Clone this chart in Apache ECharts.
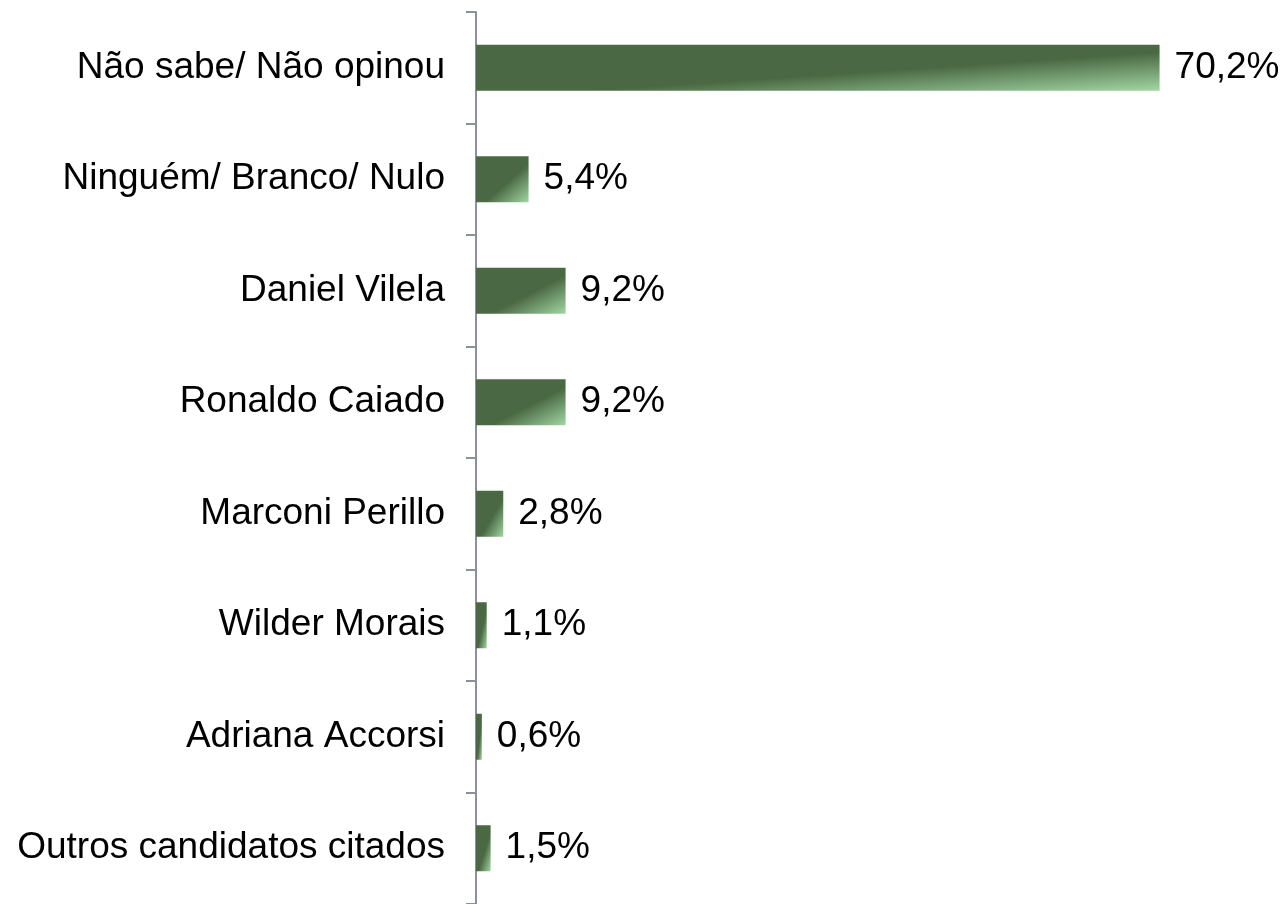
<!DOCTYPE html>
<html>
<head>
<meta charset="utf-8">
<script src="https://cdn.jsdelivr.net/npm/echarts@6/dist/echarts.min.js"></script>
<style>
html,body{margin:0;padding:0;background:#fff;}
#chart{width:1285px;height:904px;}
</style>
</head>
<body>
<div id="chart"></div>
<script>
const categories = ["Não sabe/ Não opinou", "Ninguém/ Branco/ Nulo", "Daniel Vilela", "Ronaldo Caiado", "Marconi Perillo", "Wilder Morais", "Adriana Accorsi", "Outros candidatos citados"];
const values = [70.2, 5.4, 9.2, 9.2, 2.8, 1.1, 0.6, 1.5];

const chart = echarts.init(document.getElementById('chart'));
const fontFam = '"Liberation Sans", Arial, sans-serif';
const BAR_H = 46;

function option(data) {
  return {
    animation: false,
    backgroundColor: '#ffffff',
    grid: { left: 476, top: 12, width: 779, height: 896, containLabel: false },
    xAxis: { type: 'value', min: 0, max: 80, show: false },
    yAxis: {
      type: 'category',
      data: categories,
      inverse: true,
      axisLine: { show: true, lineStyle: { color: '#8c9199', width: 2 } },
      axisTick: { show: true, length: 10, lineStyle: { color: '#8c9199', width: 2 } },
      axisLabel: { margin: 31, color: '#000', fontSize: 37, fontFamily: fontFam },
      splitLine: { show: false }
    },
    series: [{
      type: 'bar',
      data: data,
      barWidth: BAR_H,
      itemStyle: { color: '#4a6843' },
      label: {
        show: true,
        position: 'right',
        distance: 15,
        color: '#000',
        fontSize: 37,
        fontFamily: fontFam,
        formatter: p => p.value.toFixed(1).replace('.', ',') + '%'
      }
    }]
  };
}

chart.setOption(option(values));
// Diagonal gradient scaled with the bar's shape (isolines along the bar diagonal)
const x0 = chart.convertToPixel({ xAxisIndex: 0 }, 0);
const styled = values.map(v => {
  const w = Math.max(1, chart.convertToPixel({ xAxisIndex: 0 }, v) - x0);
  const h = BAR_H;
  const k = 2 / (1 / (w * w) + 1 / (h * h));
  return {
    value: v,
    itemStyle: {
      color: new echarts.graphic.LinearGradient(0, 0, k / (w * w), k / (h * h), [
        { offset: 0, color: '#4a6843' },
        { offset: 0.58, color: '#4a6843' },
        { offset: 1, color: '#a2d6a3' }
      ])
    }
  };
});
chart.setOption(option(styled));
</script>
</body>
</html>
